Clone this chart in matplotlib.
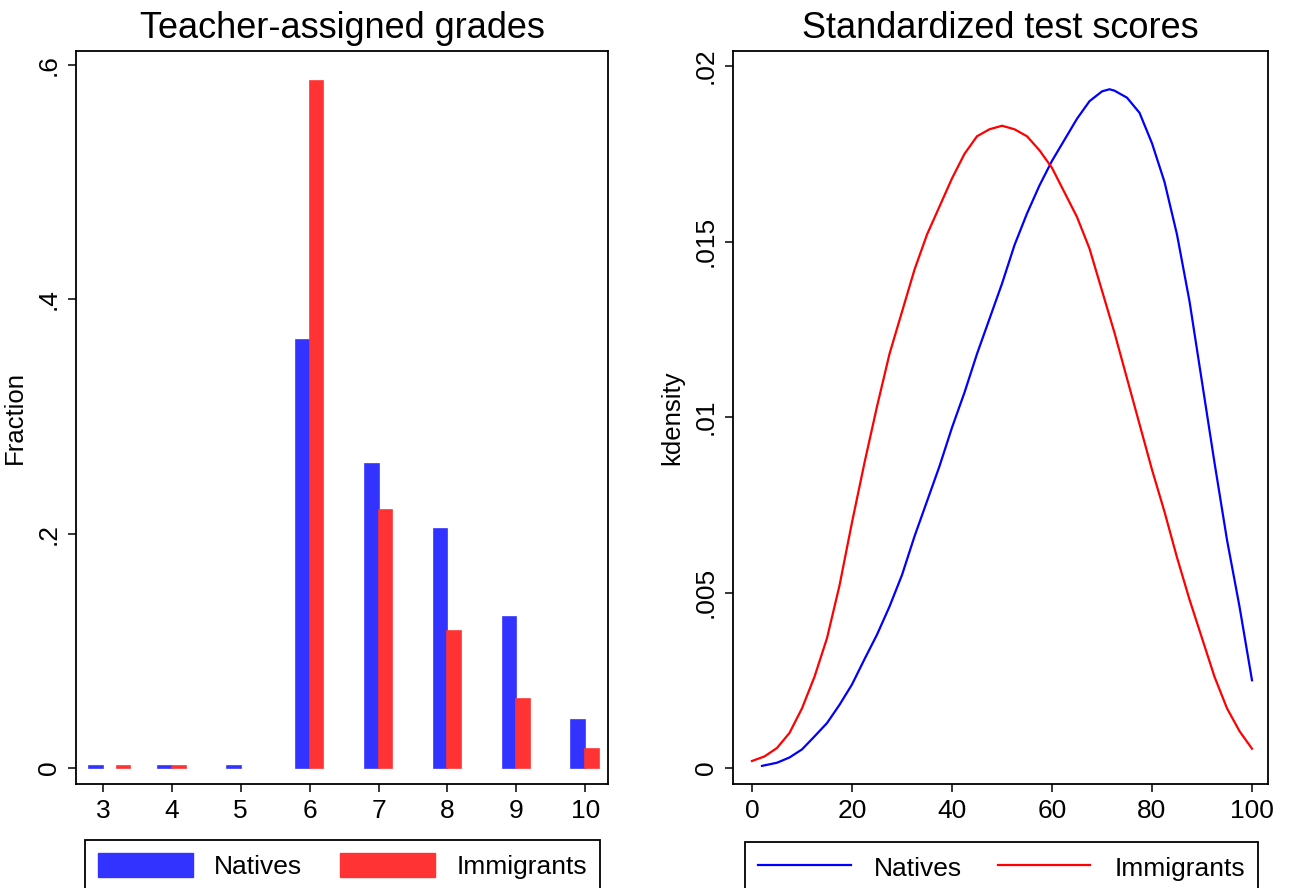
import numpy as np
import matplotlib
matplotlib.use('Agg')
import matplotlib.pyplot as plt
from matplotlib.patches import Patch
from matplotlib.lines import Line2D

plt.rcParams['font.family'] = ['Liberation Sans', 'DejaVu Sans']

# LEFT PANEL DATA: share of students by grade
grades = [3, 4, 5, 6, 7, 8, 9, 10]
nat_grades = [3, 4, 5, 6, 7, 8, 9, 10]
nat_frac = [0.0015, 0.0015, 0.0015, 0.365, 0.2595, 0.204, 0.129, 0.041]
imm_grades = [3.2, 4, 6, 7, 8, 9, 10]
imm_frac = [0.0015, 0.0015, 0.586, 0.220, 0.117, 0.059, 0.016]

# RIGHT PANEL DATA: kernel densities of test scores
nat_x = [2, 5, 7.5, 10, 12.5, 15, 17.5, 20, 22.5, 25, 27.5, 30, 32.5, 35, 37.5,
         40, 42.5, 45, 47.5, 50, 52.5, 55, 57.5, 60, 62.5, 65, 67.5, 70, 71.5,
         72.5, 75, 77.5, 80, 82.5, 85, 87.5, 90, 92.5, 95, 97.5, 100]
nat_dens = [0.00006, 0.00015, 0.0003, 0.00053, 0.0009, 0.00128, 0.0018, 0.00238,
            0.0031, 0.0038, 0.0046, 0.0055, 0.0066, 0.0076, 0.0086, 0.0097, 0.0107,
            0.0118, 0.0128, 0.0138, 0.0149, 0.0158, 0.0166, 0.0173, 0.0179, 0.0185,
            0.0190, 0.01928, 0.01934, 0.0193, 0.0191, 0.01867, 0.0178, 0.0167, 0.0152,
            0.0133, 0.0110, 0.0087, 0.0065, 0.0046, 0.0025]
imm_x = [0, 2.5, 5, 7.5, 10, 12.5, 15, 17.5, 20, 22.5, 25, 27.5, 30, 32.5, 35,
         37.5, 40, 42.5, 45, 47.5, 50, 52.5, 55, 57.5, 60, 62.5, 65, 67.5, 70,
         72.5, 75, 77.5, 80, 82.5, 85, 87.5, 90, 92.5, 95, 97.5, 100]
imm_dens = [0.0002, 0.00033, 0.00057, 0.001, 0.0017, 0.0026, 0.0037, 0.0052,
            0.0070, 0.0087, 0.0103, 0.0118, 0.0130, 0.0142, 0.0152, 0.0160, 0.0168,
            0.0175, 0.0180, 0.0182, 0.0183, 0.0182, 0.0180, 0.0176, 0.0171, 0.0164,
            0.0157, 0.0148, 0.0136, 0.0124, 0.0111, 0.0098, 0.0085, 0.0073, 0.0060,
            0.0048, 0.0037, 0.0026, 0.0017, 0.00105, 0.00055]

blue_bar = '#3333ff'
red_bar = '#ff3333'

fig = plt.figure(figsize=(12.9, 8.88), dpi=100)
ax1 = fig.add_axes([76/1290, 104/888, 532/1290, 733/888])
ax2 = fig.add_axes([733/1290, 104/888, 535/1290, 733/888])

# BARS
ax1.bar(nat_grades, nat_frac, width=-0.2, align='edge', color=blue_bar,
        edgecolor=blue_bar, linewidth=1.2)
ax1.bar(imm_grades, imm_frac, width=0.2, align='edge', color=red_bar,
        edgecolor=red_bar, linewidth=1.2)
ax1.set_xlim(2.61, 10.33)
ax1.set_ylim(-0.0137, 0.612)
ax1.set_xticks(grades)
ax1.set_yticks([0, 0.2, 0.4, 0.6])
ax1.set_yticklabels(['0', '.2', '.4', '.6'], rotation=90, va='center')
ax1.set_ylabel('Fraction', fontsize=18.5, labelpad=7)
ax1.set_title('Teacher-assigned grades', fontsize=26, pad=9)

# DENSITIES
ax2.plot(nat_x, nat_dens, color='#0000ff', lw=1.6)
ax2.plot(imm_x, imm_dens, color='#ff0000', lw=1.6)
ax2.set_xlim(-3.8, 103.2)
ax2.set_ylim(-0.000456, 0.02043)
ax2.set_xticks([0, 20, 40, 60, 80, 100])
ax2.set_yticks([0, 0.005, 0.01, 0.015, 0.02])
ax2.set_yticklabels(['0', '.005', '.01', '.015', '.02'], rotation=90, va='center')
ax2.set_ylabel('kdensity', fontsize=18.5, labelpad=7)
ax2.set_title('Standardized test scores', fontsize=26, pad=9)

for ax in (ax1, ax2):
    for s in ax.spines.values():
        s.set_linewidth(1.3)
    ax.tick_params(direction='out', length=6, width=1.1, labelsize=19, pad=5)

# LEGENDS
h1 = [Patch(color=blue_bar), Patch(color=red_bar)]
fig.legend(h1, ['Natives', 'Immigrants'], loc='upper left',
           bbox_to_anchor=(85/1290, -0.2, 515/1290, 0.254), mode='expand',
           ncol=2, fontsize=19, frameon=True, fancybox=False, edgecolor='black',
           framealpha=1, handlelength=3.6, handleheight=1.0, handletextpad=0.8,
           borderpad=0.5, borderaxespad=0)
h2 = [Line2D([], [], color='#0000ff', lw=1.6), Line2D([], [], color='#ff0000', lw=1.6)]
fig.legend(h2, ['Natives', 'Immigrants'], loc='upper left',
           bbox_to_anchor=(745/1290, -0.2, 513/1290, 0.252), mode='expand',
           ncol=2, fontsize=19, frameon=True, fancybox=False, edgecolor='black',
           framealpha=1, handlelength=3.5, handleheight=1.0, handletextpad=0.9,
           borderpad=0.5, borderaxespad=0)
for lg in fig.legends:
    lg.get_frame().set_linewidth(1.3)

plt.savefig('out.png', dpi=100)
